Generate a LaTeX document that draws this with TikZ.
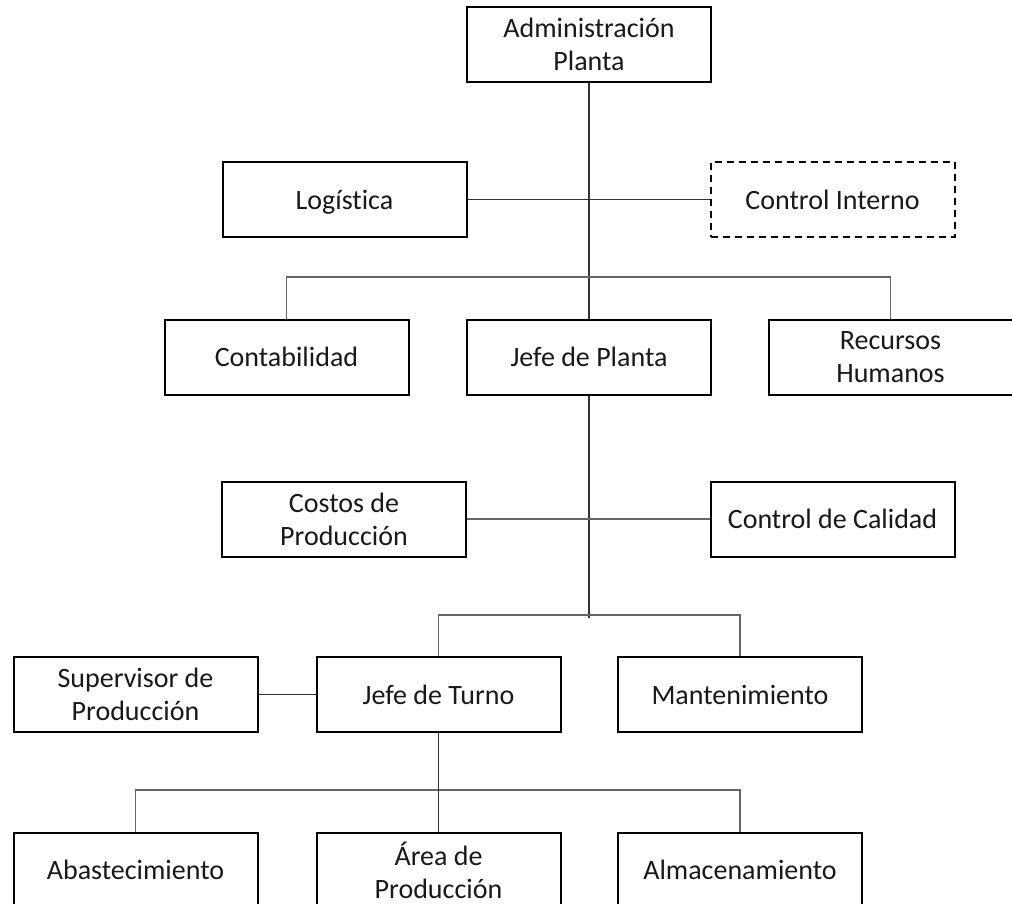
\documentclass[tikz,border=0pt]{standalone}
\usepackage{fontspec}
\setmainfont[Ligatures=NoCommon]{Carlito}
\begin{document}
\begin{tikzpicture}[x=1pt,y=-1pt,
  orgbox/.style={draw=black,line width=2pt,fill=white,minimum width=244pt,minimum height=75pt,
    inner sep=0pt,align=center,font=\fontsize{28}{33}\selectfont,text=black!90},
  dashbox/.style={orgbox,dash pattern=on 7pt off 5pt},
  conn/.style={draw=black!80,line width=1.2pt},
  bar/.style={draw=black!60,line width=1.6pt}]
\clip (0,0) rectangle (1012,904);
\fill[white] (0,0) rectangle (1012,904);
\coordinate (b1) at (589,277);
\coordinate (j1) at (589,618);
\coordinate (b2) at (589,615);
\coordinate (b3) at (438.5,790);
\node[orgbox] (admin) at (589,44.5) {Administración\\Planta};
\node[orgbox,text depth=0pt] (logi) at (344.5,199.5) {Logística};
\node[dashbox] (cint) at (832.5,199.5) {Control Interno};
\node[orgbox] (conta) at (286.5,357) {Contabilidad};
\node[orgbox] (jplanta) at (589,357) {Jefe de Planta};
\node[orgbox] (rrhh) at (890.5,357) {Recursos\\Humanos};
\node[orgbox] (costos) at (344,519) {Costos de\\Producción};
\node[orgbox] (calidad) at (832.5,519) {Control de Calidad};
\node[orgbox] (super) at (135.5,694.5) {Supervisor de\\Producción};
\node[orgbox] (jturno) at (438.5,694.5) {Jefe de Turno};
\node[orgbox] (mant) at (740,694.5) {Mantenimiento};
\node[orgbox] (abast) at (135.5,870) {Abastecimiento};
\node[orgbox] (area) at (438.5,870) {Área de\\Producción};
\node[orgbox] (almac) at (740,870) {Almacenamiento};
\draw[conn] (admin.south) -- (jplanta.north);
\draw[conn] (logi.east) -- (cint.west);
\draw[bar] (conta.north) |- (b1) -| (rrhh.north);
\draw[conn] (jplanta.south) -- (j1);
\draw[bar] (costos.east) -- (calidad.west);
\draw[bar] (jturno.north) |- (b2) -| (mant.north);
\draw[conn] (super.east) -- (jturno.west);
\draw[bar] (abast.north) |- (b3) -| (almac.north);
\draw[conn] (jturno.south) -- (area.north);
\end{tikzpicture}
\end{document}
